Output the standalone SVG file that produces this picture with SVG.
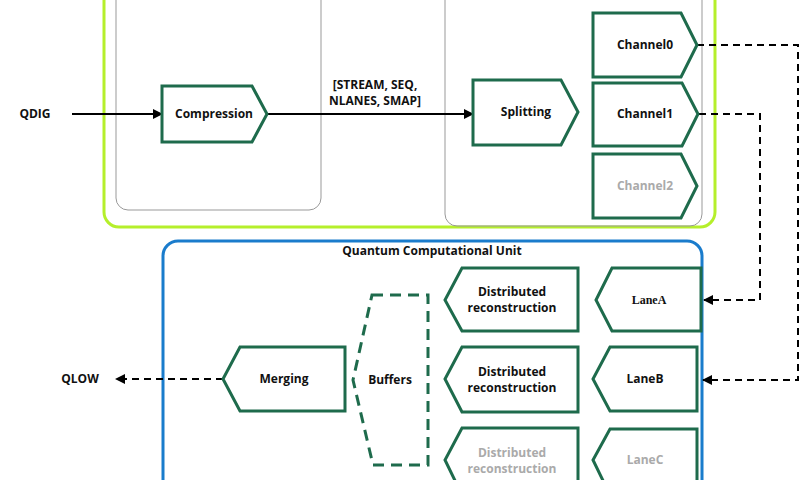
<svg xmlns="http://www.w3.org/2000/svg" width="800" height="480" viewBox="0 0 800 480">
<defs>
<style>
.n{fill:#fff;stroke:#1e6b4c;stroke-width:3}
.t{font-family:"Open Sans",sans-serif;font-weight:bold;font-size:12px;fill:#111;text-anchor:middle;dominant-baseline:middle}
.g{fill:#aaa}
.c{fill:none;stroke:#000;stroke-width:2}
.d{stroke-dasharray:7,5}
.bd{stroke-dasharray:11,7}
</style>
<marker id="ah" viewBox="0 0 10 10" refX="9" refY="5" markerWidth="5" markerHeight="5" orient="auto"><path d="M0,0L10,5L0,10z" fill="#000"/></marker>
</defs>
<rect x="104" y="-30" width="611" height="257" rx="15" fill="none" stroke="#b5ef2b" stroke-width="3"/>
<rect x="116" y="-30" width="205" height="240" rx="12" fill="none" stroke="#999" stroke-width="1"/>
<rect x="445" y="-30" width="257" height="256" rx="12" fill="none" stroke="#999" stroke-width="1"/>
<rect x="163" y="241" width="539" height="260" rx="15" fill="none" stroke="#1a7ccc" stroke-width="3"/>
<text class="t" x="432" y="252">Quantum Computational Unit</text>
<g id="connectors">
<path class="c" d="M72,114H162" marker-end="url(#ah)"/>
<path class="c" d="M267,114H473" marker-end="url(#ah)"/>
<text class="t" x="375" y="86">[STREAM, SEQ,</text>
<text class="t" x="375" y="102">NLANES, SMAP]</text>
<path class="c d" d="M697,45H798V380H703" marker-end="url(#ah)"/>
<path class="c d" d="M699,114H760V300H704" marker-end="url(#ah)"/>
<path class="c d" d="M223,379H116" marker-end="url(#ah)"/>
</g>
<text class="t" x="35" y="115">QDIG</text>
<text class="t" x="80" y="380">QLOW</text>
<g id="compression"><path class="n" d="M162,86H252L267,114L252,142H162z"/><text class="t" x="214" y="115">Compression</text></g>
<g id="splitting"><path class="n" d="M473,80H561L578,112L561,145H473z"/><text class="t" x="526" y="113">Splitting</text></g>
<g id="channel0"><path class="n" d="M593,13H681L697,45L681,77H593z"/><text class="t" x="645" y="46">Channel0</text></g>
<g id="channel1"><path class="n" d="M593,83H682L698,114L682,146H593z"/><text class="t" x="645" y="115">Channel1</text></g>
<g id="channel2"><path class="n" d="M593,154H681L697,186L681,218H593z"/><text class="t g" x="645" y="187">Channel2</text></g>
<g id="merging"><path class="n" d="M240,347H345V411H240L223,379z"/><text class="t" x="284" y="380">Merging</text></g>
<g id="buffers"><path class="n bd" d="M372,295H428V465H373L353,380z"/><text class="t" x="390" y="381">Buffers</text></g>
<g id="dr1"><path class="n" d="M462,268H578V331H462L445,300z"/><text class="t" x="512" y="293">Distributed</text><text class="t" x="512" y="309">reconstruction</text></g>
<g id="dr2"><path class="n" d="M462,347H578V412H462L445,379z"/><text class="t" x="512" y="373">Distributed</text><text class="t" x="512" y="389">reconstruction</text></g>
<g id="dr3"><path class="n" d="M462,428H578V495H462L445,460z"/><text class="t g" x="512" y="454">Distributed</text><text class="t g" x="512" y="470">reconstruction</text></g>
<g id="laneA"><path class="n" d="M612,268H701V331H612L596,300z"/><text class="t" x="649" y="301" style="font-family:'Liberation Serif',serif">LaneA</text></g>
<g id="laneB"><path class="n" d="M610,347H697V411H610L593,379z"/><text class="t" x="645" y="380">LaneB</text></g>
<g id="laneC"><path class="n" d="M610,429H697V495H610L593,460z"/><text class="t g" x="645" y="461">LaneC</text></g>
</svg>
